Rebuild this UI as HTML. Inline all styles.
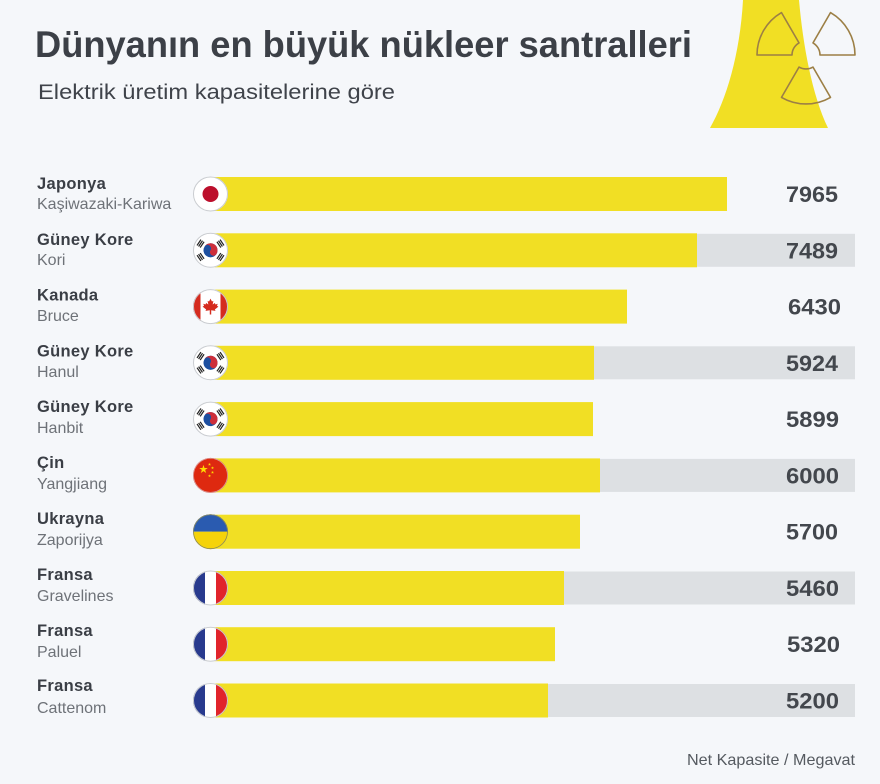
<!DOCTYPE html>
<html><head><meta charset="utf-8">
<style>
html,body{margin:0;padding:0;background:#f5f7fa;}
svg{display:block;}
.lab{font-family:"Liberation Sans",sans-serif;font-weight:bold;font-size:16.5px;letter-spacing:0.3px;fill:#3a3e45;}
.sub{font-family:"Liberation Sans",sans-serif;font-size:16px;fill:#6e7278;}
.val{font-family:"Liberation Sans",sans-serif;font-weight:bold;font-size:22px;fill:#43474d;}
</style></head>
<body>
<svg width="880" height="784" viewBox="0 0 880 784" xmlns="http://www.w3.org/2000/svg">
<defs>
<clipPath id="fc" clipPathUnits="userSpaceOnUse"><circle cx="0" cy="0" r="17.5"/></clipPath>
</defs>
<rect width="880" height="784" fill="#f5f7fa"/>

<!-- cooling tower -->
<path d="M743,0 L799,0 C803,45 812,95 828,128 L710,128 C726,100 740,55 743,0 Z" fill="#f1df24"/>
<!-- trefoil outlines, center 806,55 -->
<g fill="none" stroke="#9c7f45" stroke-width="1.6" stroke-linejoin="round">
<path d="M757,55 A49,49 0 0 1 781.5,12.6 L799,42.9 A14,14 0 0 0 792,55 Z"/>
<path d="M830.5,12.6 A49,49 0 0 1 855,55 L820,55 A14,14 0 0 0 813,42.9 Z"/>
<path d="M830.5,97.4 A49,49 0 0 1 781.5,97.4 L799,67.1 A14,14 0 0 0 813,67.1 Z"/>
</g>

<!-- titles -->
<text x="35" y="57" font-family="Liberation Sans, sans-serif" font-weight="bold" font-size="37" fill="#3c4047" textLength="657" lengthAdjust="spacingAndGlyphs">Dünyanın en büyük nükleer santralleri</text>
<text x="38" y="99" font-family="Liberation Sans, sans-serif" font-size="21.5" fill="#3f434a" textLength="357" lengthAdjust="spacingAndGlyphs">Elektrik üretim kapasitelerine göre</text>

<!-- gray bands -->
<g fill="#dde0e3">
<rect x="212" y="233.8" width="643" height="33"/>
<rect x="212" y="346.3" width="643" height="33"/>
<rect x="212" y="458.9" width="643" height="33"/>
<rect x="212" y="571.5" width="643" height="33"/>
<rect x="212" y="684" width="643" height="33"/>
</g>

<!-- yellow bars -->
<g fill="#f1df24">
<rect x="212" y="177" width="515" height="34"/>
<rect x="212" y="233.3" width="485" height="34"/>
<rect x="212" y="289.6" width="415" height="34"/>
<rect x="212" y="345.8" width="382" height="34"/>
<rect x="212" y="402.1" width="381" height="34"/>
<rect x="212" y="458.4" width="388" height="34"/>
<rect x="212" y="514.7" width="368" height="34"/>
<rect x="212" y="571" width="352" height="34"/>
<rect x="212" y="627.2" width="343" height="34"/>
<rect x="212" y="683.5" width="336" height="34"/>
</g>

<!-- labels -->
<text class="lab" x="37" y="189">Japonya</text>
<text class="sub" x="37" y="209">Kaşiwazaki-Kariwa</text>
<text class="lab" x="37" y="244.8">Güney Kore</text>
<text class="sub" x="37" y="265">Kori</text>
<text class="lab" x="37" y="300.6">Kanada</text>
<text class="sub" x="37" y="321">Bruce</text>
<text class="lab" x="37" y="356.4">Güney Kore</text>
<text class="sub" x="37" y="377">Hanul</text>
<text class="lab" x="37" y="412.2">Güney Kore</text>
<text class="sub" x="37" y="433">Hanbit</text>
<text class="lab" x="37" y="468">Çin</text>
<text class="sub" x="37" y="489">Yangjiang</text>
<text class="lab" x="37" y="523.8">Ukrayna</text>
<text class="sub" x="37" y="545">Zaporijya</text>
<text class="lab" x="37" y="580">Fransa</text>
<text class="sub" x="37" y="601">Gravelines</text>
<text class="lab" x="37" y="636">Fransa</text>
<text class="sub" x="37" y="657">Paluel</text>
<text class="lab" x="37" y="691">Fransa</text>
<text class="sub" x="37" y="713">Cattenom</text>

<!-- values -->
<text class="val" x="786" y="202" textLength="52" lengthAdjust="spacingAndGlyphs">7965</text>
<text class="val" x="786" y="258.3" textLength="52" lengthAdjust="spacingAndGlyphs">7489</text>
<text class="val" x="788" y="314.6" textLength="53" lengthAdjust="spacingAndGlyphs">6430</text>
<text class="val" x="786" y="370.8" textLength="52" lengthAdjust="spacingAndGlyphs">5924</text>
<text class="val" x="786" y="427.1" textLength="53" lengthAdjust="spacingAndGlyphs">5899</text>
<text class="val" x="786" y="483.4" textLength="53" lengthAdjust="spacingAndGlyphs">6000</text>
<text class="val" x="786" y="539.7" textLength="52" lengthAdjust="spacingAndGlyphs">5700</text>
<text class="val" x="786" y="596" textLength="53" lengthAdjust="spacingAndGlyphs">5460</text>
<text class="val" x="787" y="652.2" textLength="53" lengthAdjust="spacingAndGlyphs">5320</text>
<text class="val" x="786" y="708.5" textLength="53" lengthAdjust="spacingAndGlyphs">5200</text>

<!-- flags -->
<!-- Japan -->
<g transform="translate(210.5,194)">
<g clip-path="url(#fc)"><rect x="-18" y="-18" width="36" height="36" fill="#fff"/><circle r="8" fill="#bc0f2c"/></g>
<circle r="17" fill="none" stroke="#c9ccd0" stroke-width="1"/>
</g>

<!-- Korea x3 -->
<g transform="translate(210.5,250.3)">
<g clip-path="url(#fc)"><rect x="-18" y="-18" width="36" height="36" fill="#fff"/>
<g transform="rotate(33)"><circle r="7" fill="#1d4fa0"/><path d="M-7,0 A7,7 0 0 1 7,0 A3.5,3.5 0 0 1 0,0 A3.5,3.5 0 0 0 -7,0 Z" fill="#cd2e3a"/></g>
<g fill="#222"><g transform="rotate(-56) translate(0,-12)"><rect x="-3.5" y="-2.5" width="7" height="1.2"/><rect x="-3.5" y="-0.6" width="7" height="1.2"/><rect x="-3.5" y="1.3" width="7" height="1.2"/></g>
<g transform="rotate(56) translate(0,-12)"><rect x="-3.5" y="-2.5" width="7" height="1.2"/><rect x="-3.5" y="-0.6" width="7" height="1.2"/><rect x="-3.5" y="1.3" width="7" height="1.2"/></g>
<g transform="rotate(124) translate(0,-12)"><rect x="-3.5" y="-2.5" width="7" height="1.2"/><rect x="-3.5" y="-0.6" width="7" height="1.2"/><rect x="-3.5" y="1.3" width="7" height="1.2"/></g>
<g transform="rotate(-124) translate(0,-12)"><rect x="-3.5" y="-2.5" width="7" height="1.2"/><rect x="-3.5" y="-0.6" width="7" height="1.2"/><rect x="-3.5" y="1.3" width="7" height="1.2"/></g></g>
</g>
<circle r="17" fill="none" stroke="#c9ccd0" stroke-width="1"/>
</g>
<g transform="translate(210.5,362.8)">
<g clip-path="url(#fc)"><rect x="-18" y="-18" width="36" height="36" fill="#fff"/>
<g transform="rotate(33)"><circle r="7" fill="#1d4fa0"/><path d="M-7,0 A7,7 0 0 1 7,0 A3.5,3.5 0 0 1 0,0 A3.5,3.5 0 0 0 -7,0 Z" fill="#cd2e3a"/></g>
<g fill="#222"><g transform="rotate(-56) translate(0,-12)"><rect x="-3.5" y="-2.5" width="7" height="1.2"/><rect x="-3.5" y="-0.6" width="7" height="1.2"/><rect x="-3.5" y="1.3" width="7" height="1.2"/></g>
<g transform="rotate(56) translate(0,-12)"><rect x="-3.5" y="-2.5" width="7" height="1.2"/><rect x="-3.5" y="-0.6" width="7" height="1.2"/><rect x="-3.5" y="1.3" width="7" height="1.2"/></g>
<g transform="rotate(124) translate(0,-12)"><rect x="-3.5" y="-2.5" width="7" height="1.2"/><rect x="-3.5" y="-0.6" width="7" height="1.2"/><rect x="-3.5" y="1.3" width="7" height="1.2"/></g>
<g transform="rotate(-124) translate(0,-12)"><rect x="-3.5" y="-2.5" width="7" height="1.2"/><rect x="-3.5" y="-0.6" width="7" height="1.2"/><rect x="-3.5" y="1.3" width="7" height="1.2"/></g></g>
</g>
<circle r="17" fill="none" stroke="#c9ccd0" stroke-width="1"/>
</g>
<g transform="translate(210.5,419.1)">
<g clip-path="url(#fc)"><rect x="-18" y="-18" width="36" height="36" fill="#fff"/>
<g transform="rotate(33)"><circle r="7" fill="#1d4fa0"/><path d="M-7,0 A7,7 0 0 1 7,0 A3.5,3.5 0 0 1 0,0 A3.5,3.5 0 0 0 -7,0 Z" fill="#cd2e3a"/></g>
<g fill="#222"><g transform="rotate(-56) translate(0,-12)"><rect x="-3.5" y="-2.5" width="7" height="1.2"/><rect x="-3.5" y="-0.6" width="7" height="1.2"/><rect x="-3.5" y="1.3" width="7" height="1.2"/></g>
<g transform="rotate(56) translate(0,-12)"><rect x="-3.5" y="-2.5" width="7" height="1.2"/><rect x="-3.5" y="-0.6" width="7" height="1.2"/><rect x="-3.5" y="1.3" width="7" height="1.2"/></g>
<g transform="rotate(124) translate(0,-12)"><rect x="-3.5" y="-2.5" width="7" height="1.2"/><rect x="-3.5" y="-0.6" width="7" height="1.2"/><rect x="-3.5" y="1.3" width="7" height="1.2"/></g>
<g transform="rotate(-124) translate(0,-12)"><rect x="-3.5" y="-2.5" width="7" height="1.2"/><rect x="-3.5" y="-0.6" width="7" height="1.2"/><rect x="-3.5" y="1.3" width="7" height="1.2"/></g></g>
</g>
<circle r="17" fill="none" stroke="#c9ccd0" stroke-width="1"/>
</g>

<!-- Canada -->
<g transform="translate(210.5,306.6)">
<g clip-path="url(#fc)"><rect x="-18" y="-18" width="36" height="36" fill="#fff"/>
<rect x="-18" y="-18" width="8" height="36" fill="#d52b1e"/><rect x="10" y="-18" width="8" height="36" fill="#d52b1e"/>
<path transform="scale(0.72)" fill="#d52b1e" d="M0,-11 L2,-7 L4,-8 L3,-3 L6,-5 L7,-3 L10,-4 L9,-1 L11,0 L6,4 L7,6 L1,5 L1,11 L-1,11 L-1,5 L-7,6 L-6,4 L-11,0 L-9,-1 L-10,-4 L-7,-3 L-6,-5 L-3,-3 L-4,-8 L-2,-7 Z"/>
</g>
<circle r="17" fill="none" stroke="#c9ccd0" stroke-width="1"/>
</g>

<!-- China -->
<g transform="translate(210.5,475.4)">
<g clip-path="url(#fc)"><rect x="-18" y="-18" width="36" height="36" fill="#de2910"/>
<g fill="#ffde00">
<path transform="translate(-7,-6) scale(0.9)" d="M0,-5 L1.12,-1.54 L4.76,-1.55 L1.81,0.59 L2.94,4.05 L0,1.9 L-2.94,4.05 L-1.81,0.59 L-4.76,-1.55 L-1.12,-1.54 Z"/>
<path transform="translate(-1,-11) scale(0.32)" d="M0,-5 L1.12,-1.54 L4.76,-1.55 L1.81,0.59 L2.94,4.05 L0,1.9 L-2.94,4.05 L-1.81,0.59 L-4.76,-1.55 L-1.12,-1.54 Z"/>
<path transform="translate(2,-7.5) scale(0.32)" d="M0,-5 L1.12,-1.54 L4.76,-1.55 L1.81,0.59 L2.94,4.05 L0,1.9 L-2.94,4.05 L-1.81,0.59 L-4.76,-1.55 L-1.12,-1.54 Z"/>
<path transform="translate(2,-3) scale(0.32)" d="M0,-5 L1.12,-1.54 L4.76,-1.55 L1.81,0.59 L2.94,4.05 L0,1.9 L-2.94,4.05 L-1.81,0.59 L-4.76,-1.55 L-1.12,-1.54 Z"/>
<path transform="translate(-1,0.5) scale(0.32)" d="M0,-5 L1.12,-1.54 L4.76,-1.55 L1.81,0.59 L2.94,4.05 L0,1.9 L-2.94,4.05 L-1.81,0.59 L-4.76,-1.55 L-1.12,-1.54 Z"/>
</g></g>
<circle r="17" fill="none" stroke="#d9a0a0" stroke-width="0.8"/>
</g>

<!-- Ukraine -->
<g transform="translate(210.5,531.7)">
<g clip-path="url(#fc)"><rect x="-18" y="-18" width="36" height="18" fill="#2a5bb0"/><rect x="-18" y="0" width="36" height="18" fill="#f5d30a"/></g>
<circle r="17" fill="none" stroke="#8a8a60" stroke-width="0.8"/>
</g>

<!-- France x3 -->
<g transform="translate(210.5,588)">
<g clip-path="url(#fc)"><rect x="-18" y="-18" width="12.5" height="36" fill="#283a8e"/><rect x="-5.5" y="-18" width="11" height="36" fill="#fff"/><rect x="5.5" y="-18" width="12.5" height="36" fill="#e1242b"/></g>
<circle r="17" fill="none" stroke="#c9ccd0" stroke-width="1"/>
</g>
<g transform="translate(210.5,644.2)">
<g clip-path="url(#fc)"><rect x="-18" y="-18" width="12.5" height="36" fill="#283a8e"/><rect x="-5.5" y="-18" width="11" height="36" fill="#fff"/><rect x="5.5" y="-18" width="12.5" height="36" fill="#e1242b"/></g>
<circle r="17" fill="none" stroke="#c9ccd0" stroke-width="1"/>
</g>
<g transform="translate(210.5,700.5)">
<g clip-path="url(#fc)"><rect x="-18" y="-18" width="12.5" height="36" fill="#283a8e"/><rect x="-5.5" y="-18" width="11" height="36" fill="#fff"/><rect x="5.5" y="-18" width="12.5" height="36" fill="#e1242b"/></g>
<circle r="17" fill="none" stroke="#c9ccd0" stroke-width="1"/>
</g>

<!-- footer -->
<text x="687" y="765" font-family="Liberation Sans, sans-serif" font-size="16" fill="#555a60" textLength="168" lengthAdjust="spacingAndGlyphs">Net Kapasite / Megavat</text>
</svg>
</body></html>
